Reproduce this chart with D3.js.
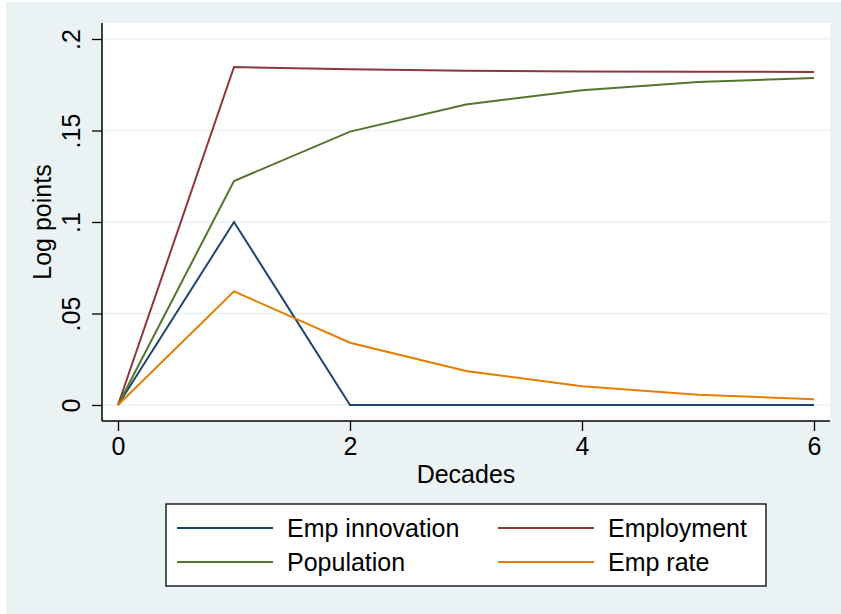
<!DOCTYPE html>
<html>
<head>
<meta charset="utf-8">
<script src="https://cdn.jsdelivr.net/npm/d3@7"></script>
<style>
  body { margin: 0; background: #ffffff; }
  svg { display: block; font-family: "Liberation Sans", Arial, Helvetica, sans-serif; }
</style>
</head>
<body>
<script>
// values
const decades = [0, 1, 2, 3, 4, 5, 6];
const empInnovation = [0, 0.1, 0, 0, 0, 0, 0];
const employment = [0, 0.1847, 0.1835, 0.1827, 0.1822, 0.1821, 0.182];
const population = [0, 0.1224, 0.1494, 0.1642, 0.172, 0.1765, 0.1787];
const empRate = [0, 0.0621, 0.034, 0.0186, 0.0102, 0.0056, 0.0031];

const seriesNames = ["Emp innovation", "Employment", "Population", "Emp rate"];
const seriesColors = ["#1a476f", "#90353b", "#55752f", "#e37e00"];

const xTicks = [0, 2, 4, 6];
const yTicks = [0, 0.05, 0.1, 0.15, 0.2];
const yTickLabels = ["0", ".05", ".1", ".15", ".2"];

var width = 841,
  height = 614;

var plot = { left: 102, right: 830, top: 23, bottom: 421 };

var svg = d3
  .select("body")
  .append("svg")
  .attr("width", width)
  .attr("height", height);

// graph region + plot region
svg
  .append("rect")
  .attr("x", 6)
  .attr("y", 2)
  .attr("width", width - 6)
  .attr("height", height - 2)
  .attr("fill", "#eaf2f3");

svg
  .append("rect")
  .attr("x", plot.left)
  .attr("y", plot.top)
  .attr("width", plot.right - plot.left)
  .attr("height", plot.bottom - plot.top)
  .attr("fill", "#ffffff");

var x = d3.scaleLinear().domain([0, 6]).range([118, 814]);
var y = d3.scaleLinear().domain([0, 0.2]).range([405, 39]);

// gridlines
svg
  .append("g")
  .selectAll("line")
  .data(yTicks)
  .enter()
  .append("line")
  .attr("x1", plot.left)
  .attr("x2", plot.right)
  .attr("y1", function (d) {
    return y(d);
  })
  .attr("y2", function (d) {
    return y(d);
  })
  .attr("stroke", "#eaf2f3")
  .attr("stroke-width", 1.5);

// lines
var series = [empInnovation, employment, population, empRate];

var line = d3
  .line()
  .x(function (d, i) {
    return x(decades[i]);
  })
  .y(function (d) {
    return y(d);
  });

svg
  .append("g")
  .selectAll("path")
  .data(series)
  .enter()
  .append("path")
  .attr("d", line)
  .attr("fill", "none")
  .attr("stroke", function (d, i) {
    return seriesColors[i];
  })
  .attr("stroke-width", 2)
  .attr("stroke-linejoin", "miter");

// y axis
var yAxis = svg
  .append("g")
  .attr("transform", "translate(" + plot.left + ",0)")
  .call(
    d3
      .axisLeft(y)
      .tickValues(yTicks)
      .tickSize(10)
      .tickFormat(function (d, i) {
        return yTickLabels[i];
      })
  );

yAxis.select(".domain").remove();
yAxis
  .append("line")
  .attr("x1", 0)
  .attr("x2", 0)
  .attr("y1", plot.top)
  .attr("y2", plot.bottom)
  .attr("stroke", "#000")
  .attr("stroke-width", 1.5);
yAxis.selectAll(".tick line").attr("stroke", "#000").attr("stroke-width", 1.3);
yAxis
  .selectAll(".tick text")
  .attr("transform", "rotate(-90)")
  .attr("x", 0)
  .attr("y", -22)
  .attr("dy", 0)
  .attr("text-anchor", "middle")
  .attr("fill", "#000")
  .style("font-size", "25px");

// x axis
var xAxis = svg
  .append("g")
  .attr("transform", "translate(0," + plot.bottom + ")")
  .call(d3.axisBottom(x).tickValues(xTicks).tickSize(10).tickFormat(d3.format("d")));

xAxis.select(".domain").remove();
xAxis
  .append("line")
  .attr("x1", plot.left)
  .attr("x2", plot.right)
  .attr("y1", 0)
  .attr("y2", 0)
  .attr("stroke", "#000")
  .attr("stroke-width", 1.5);
xAxis.selectAll(".tick line").attr("stroke", "#000").attr("stroke-width", 1.3);
xAxis
  .selectAll(".tick text")
  .attr("y", 34)
  .attr("dy", 0)
  .attr("fill", "#000")
  .style("font-size", "25px");

// axis titles
svg
  .append("text")
  .attr("x", (plot.left + plot.right) / 2)
  .attr("y", 483)
  .attr("text-anchor", "middle")
  .style("font-size", "25px")
  .text("Decades");

svg
  .append("text")
  .attr("transform", "translate(51," + (plot.top + plot.bottom) / 2 + ") rotate(-90)")
  .attr("text-anchor", "middle")
  .style("font-size", "25px")
  .text("Log points");

// legend
var legend = svg.append("g");

legend
  .append("rect")
  .attr("x", 166)
  .attr("y", 504)
  .attr("width", 600)
  .attr("height", 82)
  .attr("fill", "#ffffff")
  .attr("stroke", "#000")
  .attr("stroke-width", 1.3);

var legendCols = [177, 498];
var legendRows = [528, 562];

var items = legend
  .selectAll(".item")
  .data(seriesNames)
  .enter()
  .append("g")
  .attr("class", "item")
  .attr("transform", function (d, i) {
    return "translate(" + legendCols[i % 2] + "," + legendRows[Math.floor(i / 2)] + ")";
  });

items
  .append("line")
  .attr("x1", 0)
  .attr("x2", 96)
  .attr("stroke", function (d, i) {
    return seriesColors[i];
  })
  .attr("stroke-width", 2);

items
  .append("text")
  .attr("x", 110)
  .attr("y", 9)
  .style("font-size", "25px")
  .text(function (d) {
    return d;
  });
</script>
</body>
</html>
